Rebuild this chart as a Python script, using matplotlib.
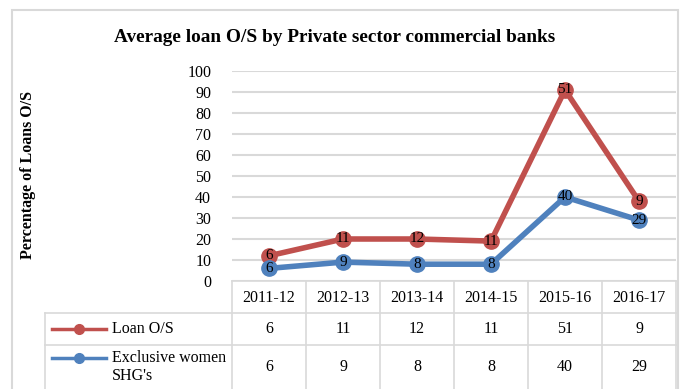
import matplotlib.pyplot as plt
from matplotlib.lines import Line2D
from matplotlib.patches import Rectangle
import numpy as np

plt.rcParams['font.family'] = ['Liberation Serif', 'DejaVu Serif']

years = ['2011-12', '2012-13', '2013-14', '2014-15', '2015-16', '2016-17']
loan_os = [6, 11, 12, 11, 51, 9]
women_shg = [6, 9, 8, 8, 40, 29]

red = '#C0504D'
blue = '#4F81BD'
grid_c = '#d9d9d9'

W, H = 681, 389
fig = plt.figure(figsize=(W / 100, H / 100), dpi=100)

# 차트 영역 (픽셀 기준 위치)
ax = fig.add_axes([232 / W, 1 - 281 / H, (676 - 232) / W, 210 / H])
x = np.arange(len(years))
stacked = np.array(women_shg) + np.array(loan_os)   # 누적 선 그래프

ax.plot(x, stacked, color=red, lw=4, marker='o', ms=11, zorder=3)
ax.plot(x, women_shg, color=blue, lw=4, marker='o', ms=11, zorder=3)
for i in range(len(years)):
    ax.text(x[i], stacked[i], str(loan_os[i]), ha='center', va='center', fontsize=11, zorder=4)
    ax.text(x[i], women_shg[i], str(women_shg[i]), ha='center', va='center', fontsize=11, zorder=4)

ax.set_xlim(-0.5, len(years) - 0.5)
ax.set_ylim(0, 100)
ax.set_yticks(range(0, 101, 10))
ax.set_xticks([])
ax.tick_params(axis='y', length=0, pad=15, labelsize=11.5)
ax.grid(axis='y', color=grid_c, lw=1.5)
ax.set_axisbelow(True)
for s in ['left', 'right', 'top']:
    ax.spines[s].set_visible(False)
ax.spines['bottom'].set_color(grid_c)
ax.spines['bottom'].set_linewidth(1.2)

# 데이터 표 (x축 아래)
tr = ax.get_xaxis_transform()
row_y = [-0.081, -0.229, -0.41]
for i, yr in enumerate(years):
    ax.text(x[i], row_y[0], yr, transform=tr, ha='center', va='center', fontsize=11.5)
    ax.text(x[i], row_y[1], str(loan_os[i]), transform=tr, ha='center', va='center', fontsize=11.5)
    ax.text(x[i], row_y[2], str(women_shg[i]), transform=tr, ha='center', va='center', fontsize=11.5)

# 표 테두리선 (픽셀 좌표 -> figure 좌표)
def hline(x0, x1, y):
    fig.add_artist(Line2D([x0 / W, x1 / W], [1 - y / H, 1 - y / H], color=grid_c, lw=1.2))

def vline(xp, y0, y1):
    fig.add_artist(Line2D([xp / W, xp / W], [1 - y0 / H, 1 - y1 / H], color=grid_c, lw=1.2))

for xb in np.linspace(232, 676, 7):
    vline(xb, 281, 389)
vline(45, 313, 389)
hline(45, 676, 313)
hline(45, 676, 345)

# 범례 (표 왼쪽 칸)
fig.add_artist(Line2D([52 / W, 79 / W, 106 / W], [1 - 329 / H] * 3, color=red, lw=2.5,
                      marker='o', ms=7, markevery=[1]))
fig.add_artist(Line2D([52 / W, 79 / W, 106 / W], [1 - 358 / H] * 3, color=blue, lw=2.5,
                      marker='o', ms=7, markevery=[1]))
fig.text(112 / W, 1 - 329 / H, 'Loan O/S', ha='left', va='center', fontsize=11.5)
fig.text(112 / W, 1 - 367 / H, "Exclusive women\nSHG's", ha='left', va='center',
         fontsize=11.5, linespacing=1.2)

# 제목, y축 제목, 바깥 테두리
fig.text(335 / W, 1 - 38 / H, 'Average loan O/S by Private sector commercial banks',
         ha='center', va='center', fontsize=13.9, fontweight='bold')
fig.text(28 / W, 1 - 175 / H, 'Percentage of Loans O/S', rotation=90, ha='center',
         va='center', fontsize=11.5, fontweight='bold')
fig.add_artist(Rectangle((12 / W, -0.05), (678 - 12) / W, 1.05 - 10 / H,
                         fill=False, edgecolor=grid_c, lw=1.5))

fig.savefig('out.png', dpi=100)
